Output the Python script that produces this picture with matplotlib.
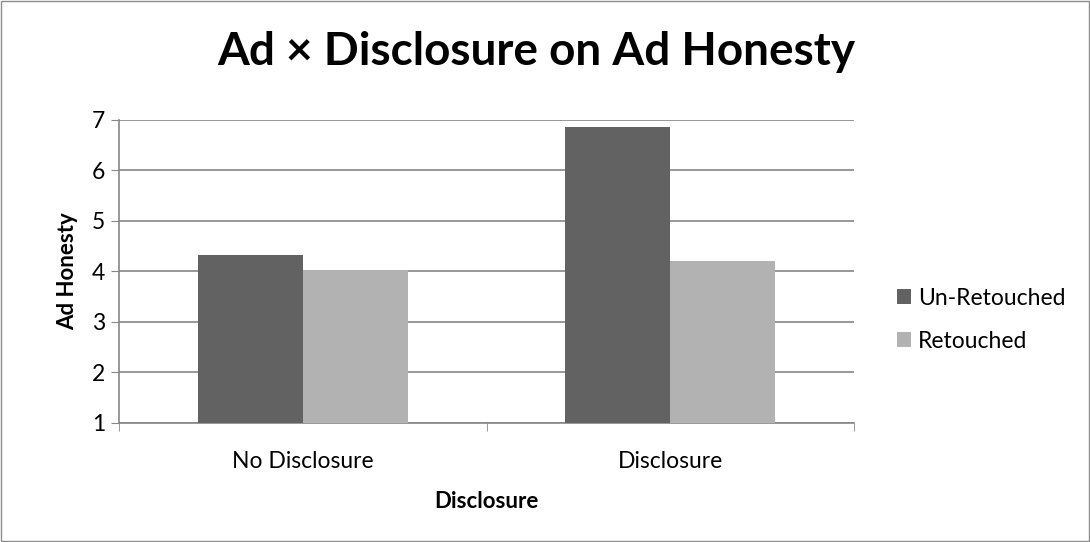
import numpy as np
import matplotlib.pyplot as plt
from matplotlib.patches import Rectangle

plt.rcParams['font.family'] = ['Lato', 'DejaVu Sans']

categories = ["No Disclosure", "Disclosure"]
series_names = ["Un-Retouched", "Retouched"]
un_retouched = [4.33, 6.87]
retouched = [4.02, 4.21]
colors = ["#626262", "#b2b2b2"]

fig = plt.figure(figsize=(10.9, 5.42), dpi=100)
fig.patches.append(Rectangle((0.001, 0.001), 0.998, 0.997, transform=fig.transFigure,
                             fill=False, edgecolor="#8c8c8c", linewidth=1))
ax = fig.add_axes([0.1092, 0.2196, 0.6743, 0.559])

x = np.arange(len(categories))
w = 0.286
ax.bar(x - w / 2, np.array(un_retouched) - 1, w, bottom=1, color=colors[0], label=series_names[0], zorder=3)
ax.bar(x + w / 2, np.array(retouched) - 1, w, bottom=1, color=colors[1], label=series_names[1], zorder=3)

ax.set_xlim(-0.5, 1.5)
ax.set_ylim(1, 7)
ax.set_yticks(range(1, 8))
ax.set_xticks(x)
ax.set_xticklabels(categories)
ax.set_xticks([-0.5, 0.5, 1.5], minor=True)
ax.tick_params(axis='x', which='major', length=0, pad=20, labelsize=16.5)
ax.tick_params(axis='x', which='minor', length=6, color="#868686", direction='out')
ax.tick_params(axis='y', length=6, color="#868686", pad=4, labelsize=16.5)
ax.grid(axis='y', color="#868686", linewidth=1.2, zorder=0)
for s in ['top', 'right']:
    ax.spines[s].set_visible(False)
for s in ['left', 'bottom']:
    ax.spines[s].set_color("#868686")
    ax.spines[s].set_linewidth(1.2)

ax.set_xlabel("Disclosure", fontsize=16, fontweight='bold', labelpad=14)
ax.set_ylabel("Ad Honesty", fontsize=16, fontweight='bold', labelpad=10)
fig.text(0.492, 0.904, "Ad × Disclosure on Ad Honesty", ha='center', va='center',
         fontsize=33, fontweight='bold')

fig.legend(loc='center left', bbox_to_anchor=(0.812, 0.41), frameon=False, fontsize=16.5,
           borderpad=0, handlelength=0.65, handleheight=0.65, handletextpad=0.3, labelspacing=0.95)

fig.savefig("out.png", dpi=100)
